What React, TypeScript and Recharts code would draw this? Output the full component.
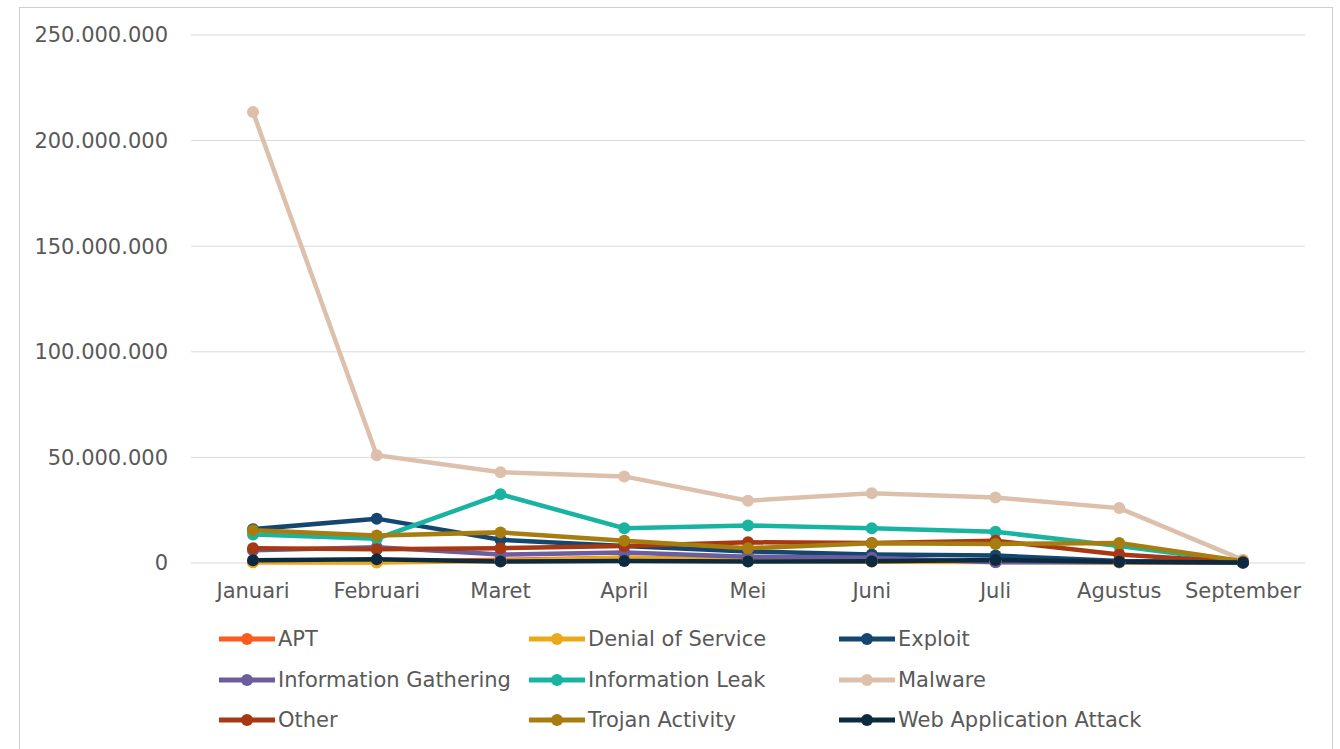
import { LineChart, Line, XAxis, YAxis, CartesianGrid, Legend } from "recharts";

const months = ["Januari", "Februari", "Maret", "April", "Mei", "Juni", "Juli", "Agustus", "September"];

// values in millions
const apt = [0.5, 0.5, 1.5, 2.5, 1.5, 0.8, 0.6, 0.3, 0.1];
const denialOfService = [0.3, 0.2, 1, 2.5, 1.2, 0.6, 0.5, 0.2, 0.1];
const exploit = [16, 21, 11, 8, 5.5, 4, 3.5, 1, 0.3];
const infoGathering = [6, 7.5, 4, 5, 3, 2.5, 0.3, 0.5, 0.1];
const infoLeak = [13.5, 11.5, 32.5, 16.5, 17.8, 16.5, 14.8, 8, 0.5];
const malware = [213.5, 51, 43, 41, 29.5, 33, 31, 26, 1.5];
const other = [7, 6.5, 7, 8, 9.8, 9.5, 10.5, 4, 0.3];
const trojan = [15.5, 13, 14.5, 10.5, 7, 9.3, 9, 9.5, 0.8];
const webApp = [1.3, 1.8, 0.7, 0.9, 0.7, 0.8, 1.4, 0.6, 0.2];

const yTicks = [0, 50000000, 100000000, 150000000, 200000000, 250000000];

const series = [
  { key: "APT", values: apt, color: "#ff5a1f" },
  { key: "Denial of Service", values: denialOfService, color: "#e9a91b" },
  { key: "Exploit", values: exploit, color: "#15466f" },
  { key: "Information Gathering", values: infoGathering, color: "#6c5d9c" },
  { key: "Information Leak", values: infoLeak, color: "#19b3a2" },
  { key: "Malware", values: malware, color: "#dcc0ab" },
  { key: "Other", values: other, color: "#a73812" },
  { key: "Trojan Activity", values: trojan, color: "#a67d0e" },
  { key: "Web Application Attack", values: webApp, color: "#0d2b40" },
];

const data = months.map((m, i) => {
  const row: Record<string, string | number> = { month: m };
  series.forEach((s) => {
    row[s.key] = s.values[i] * 1000000;
  });
  return row;
});

const fmt = (v: number) => String(Math.round(v)).replace(/\B(?=(\d{3})+(?!\d))/g, ".");

const labelFont = "'DejaVu Sans', sans-serif";

function LegendBox() {
  return (
    <div
      style={{
        display: "grid",
        gridTemplateColumns: "310px 310px 310px",
        paddingLeft: 218,
        paddingTop: 1,
        fontFamily: labelFont,
        fontSize: 21,
        color: "#595959",
        whiteSpace: "nowrap",
      }}
    >
      {series.map((s) => (
        <div key={s.key} style={{ height: 40.5, display: "flex", alignItems: "center" }}>
          <svg width={60} height={16} style={{ flex: "none" }}>
            <line x1={1} y1={8} x2={57} y2={8} stroke={s.color} strokeWidth={5} />
            <circle cx={29} cy={8} r={6} fill={s.color} />
          </svg>
          <span>{s.key}</span>
        </div>
      ))}
    </div>
  );
}

export default function App() {
  return (
    <div style={{ position: "absolute", left: 0, top: 0, width: 1340, height: 749, background: "#fff" }}>
      <div
        style={{
          position: "absolute",
          left: 19,
          top: 7,
          width: 1312,
          height: 745,
          border: "1px solid #cfcfcf",
        }}
      />
      <LineChart
        width={1340}
        height={749}
        data={data}
        margin={{ top: 35, right: 35, left: 0, bottom: 0 }}
        style={{ position: "absolute", left: 0, top: 0 }}
      >
        <CartesianGrid vertical={false} stroke="#d9d9d9" />
        <XAxis
          dataKey="month"
          axisLine={false}
          tickLine={false}
          tickSize={0}
          tickMargin={20}
          height={55}
          interval={0}
          padding={{ left: 62, right: 62 }}
          tick={{ fill: "#595959", fontSize: 21, fontFamily: labelFont }}
        />
        <YAxis
          width={191}
          domain={[0, 250000000]}
          ticks={yTicks}
          axisLine={false}
          tickLine={false}
          tickSize={0}
          tickMargin={23}
          tickFormatter={fmt}
          tick={{ fill: "#595959", fontSize: 21, fontFamily: labelFont }}
        />
        <Legend
          verticalAlign="bottom"
          height={131}
          wrapperStyle={{ left: 0, width: 1340 }}
          content={() => <LegendBox />}
        />
        {series.map((s) => (
          <Line
            key={s.key}
            dataKey={s.key}
            stroke={s.color}
            strokeWidth={4.5}
            dot={{ r: 6, fill: s.color, stroke: s.color, strokeWidth: 0 }}
            activeDot={false}
            isAnimationActive={false}
          />
        ))}
      </LineChart>
    </div>
  );
}
